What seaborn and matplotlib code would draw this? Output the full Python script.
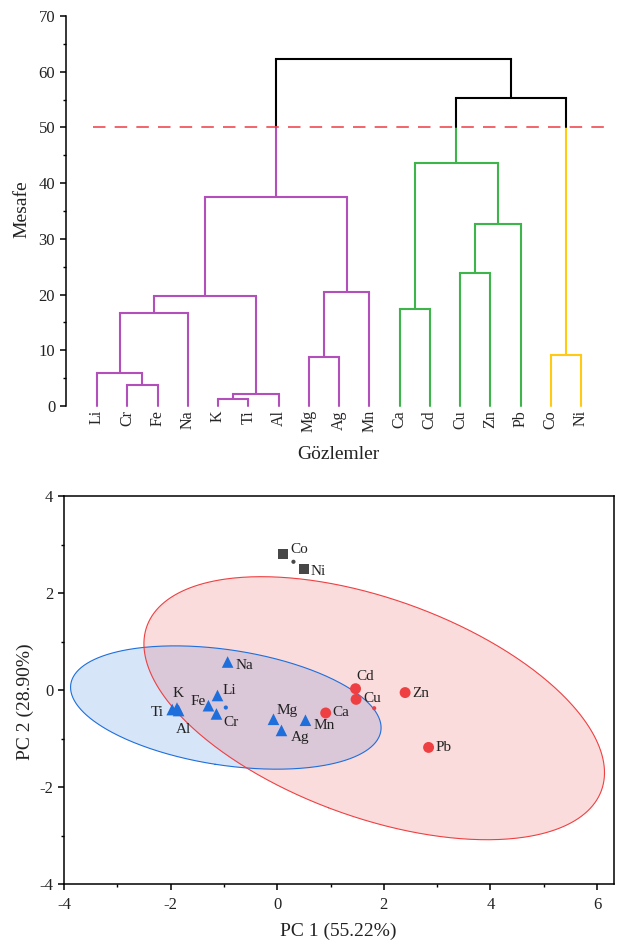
import numpy as np
import pandas as pd
import matplotlib
matplotlib.use("Agg")
import matplotlib.pyplot as plt
import seaborn as sns
from matplotlib.ticker import MultipleLocator

# ---------------- data: dendrogram ----------------
leaves = ["Li", "Cr", "Fe", "Na", "K", "Ti", "Al", "Mg", "Ag", "Mn",
          "Ca", "Cd", "Cu", "Zn", "Pb", "Co", "Ni"]
merge_left = ["Cr", "Li", "n2", "K", "n4", "n3", "Mg", "n7", "n6",
              "Ca", "Cu", "n11", "n10", "Co", "n13", "n9"]
merge_right = ["Fe", "n1", "Na", "Ti", "Al", "n5", "Ag", "Mn", "n8",
               "Cd", "Zn", "Pb", "n12", "Ni", "n14", "n15"]
merge_height = [3.8, 5.9, 16.7, 1.3, 2.2, 19.7, 8.8, 20.4, 37.6,
                17.5, 23.9, 32.7, 43.6, 9.1, 55.3, 62.3]
cut_height = 50
dendro_yticks = [0, 10, 20, 30, 40, 50, 60, 70]

# ---------------- data: PCA ----------------
pca_names = ["Na", "Li", "Fe", "Cr", "K", "Ti", "Al", "Mg", "Ag", "Mn",
             "Ca", "Cd", "Cu", "Zn", "Pb", "Co", "Ni"]
pc1 = [-0.93, -1.12, -1.29, -1.14, -1.88, -1.97, -1.85, -0.07, 0.08, 0.53,
       0.91, 1.47, 1.48, 2.40, 2.84, 0.11, 0.50]
pc2 = [0.58, -0.11, -0.32, -0.49, -0.37, -0.40, -0.42, -0.60, -0.83, -0.62,
       -0.47, 0.03, -0.19, -0.05, -1.18, 2.80, 2.49]
pca_group = ["G1"] * 10 + ["G2"] * 5 + ["G3"] * 2
pca_xticks = [-4, -2, 0, 2, 4, 6]
pca_yticks = [-4, -2, 0, 2, 4]

# ---------------- styles ----------------
cluster_colors = ["#B24FBA", "#3DB54A", "#FFC914"]
above_color = "#000000"
group_colors = {"G1": "#1E6FDC", "G2": "#EE4042", "G3": "#474747"}
group_markers = {"G1": "^", "G2": "o", "G3": "s"}
group_sizes = {"G1": 70, "G2": 62, "G3": 52}
# label offsets in pixels (dx right, dy down), horizontal alignment
label_offsets = {
    "Co": (7, -5, "left"), "Ni": (7, 2, "left"), "Na": (8, 4, "left"),
    "Li": (5, -5, "left"), "Fe": (-3, -4, "right"), "Cr": (7, 9, "left"),
    "K": (1, -15, "center"), "Ti": (-8, 3, "right"), "Al": (5, 19, "center"),
    "Mg": (3, -9, "left"), "Ag": (9, 7, "left"), "Mn": (8, 5, "left"),
    "Ca": (7, 0, "left"), "Cd": (1, -12, "left"), "Cu": (7, -1, "left"),
    "Zn": (7, 1, "left"), "Pb": (7, 0, "left"),
}

sns.set_theme(style="ticks")
plt.rcParams['font.family'] = ['Liberation Serif', 'DejaVu Serif']
plt.rcParams['axes.unicode_minus'] = False
plt.rcParams['mathtext.default'] = 'regular'

W, H = 622, 950
fig = plt.figure(figsize=(W / 100, H / 100), dpi=100)

# =============== Dendrogram ===============
ax1 = fig.add_axes([66 / W, 1 - 406 / H, 544 / W, 390 / H])
nodes = {l: (float(i), 0.0) for i, l in enumerate(leaves)}
children = {}
for j, (a, b, hgt) in enumerate(zip(merge_left, merge_right, merge_height)):
    nid = f"n{j + 1}"
    nodes[nid] = ((nodes[a][0] + nodes[b][0]) / 2.0, hgt)
    children[nid] = (a, b)
root = f"n{len(merge_height)}"
palette_iter = iter(cluster_colors)
lw_d = 1.5


def draw(node, color):
    if node not in children:
        return
    x, y = nodes[node]
    a, b = children[node]
    ax1.plot([nodes[a][0], nodes[b][0]], [y, y], color=color, lw=lw_d,
             solid_capstyle="projecting", clip_on=False)
    for c in (a, b):
        cx, cy = nodes[c]
        if y >= cut_height and cy < cut_height:
            ccol = next(palette_iter)
            ax1.plot([cx, cx], [cy, cut_height], color=ccol, lw=lw_d, clip_on=False)
            ax1.plot([cx, cx], [cut_height, y], color=color, lw=lw_d, clip_on=False)
        else:
            ccol = color
            ax1.plot([cx, cx], [cy, y], color=ccol, lw=lw_d, clip_on=False)
        draw(c, ccol)


start_color = above_color if nodes[root][1] >= cut_height else next(palette_iter)
draw(root, start_color)

ax1.axhline(cut_height, xmin=(93 - 66) / 544, xmax=(604 - 66) / 544,
            color="#EF4B52", lw=1.2, dashes=(7.5, 5.5), zorder=5)
ax1.set_xlim(-31 / 30.25, (610 - 97) / 30.25)
ax1.set_ylim(0, 70)
ax1.set_xticks(range(len(leaves)))
ax1.set_xticklabels(leaves, rotation=90, fontsize=11.5)
ax1.tick_params(axis="x", length=0, pad=3)
ax1.set_yticks(dendro_yticks)
ax1.yaxis.set_minor_locator(MultipleLocator(5))
ax1.tick_params(axis="y", which="major", direction="out", length=4.3, width=1.1,
                labelsize=12, pad=3.5, color="black", labelcolor="#222222")
ax1.tick_params(axis="y", which="minor", direction="out", length=2.3, width=1.0,
                color="black")
for s in ["top", "right", "bottom"]:
    ax1.spines[s].set_visible(False)
ax1.spines["left"].set_linewidth(1.1)
ax1.spines["left"].set_color("black")
ax1.set_facecolor("white")
ax1.grid(False)
fig.text(22 / W, 1 - 209 / H, "Mesafe", rotation=90, ha="center", va="center",
         fontsize=14, color="#222222")
fig.text(338 / W, 1 - 455 / H, "Gözlemler", ha="center", va="center",
         fontsize=14, color="#222222")

# =============== PCA ===============
ax2 = fig.add_axes([64 / W, 1 - 884.3 / H, 549.5 / W, 388.3 / H])
df = pd.DataFrame({"name": pca_names, "PC1": pc1, "PC2": pc2, "Group": pca_group})

theta = np.linspace(0, 2 * np.pi, 400)
for g in ["G1", "G2"]:
    sub = df[df.Group == g]
    n = len(sub)
    if n <= 2:
        continue
    d2 = n - 2
    fq = (d2 / 2.0) * (0.05 ** (-2.0 / d2) - 1.0)  # F(0.95; 2, n-2)
    k = 2 * (n - 1) * (n + 1) / (n * (n - 2)) * fq
    cov = np.cov(sub.PC1, sub.PC2)
    vals, vecs = np.linalg.eigh(cov)
    circ = np.vstack([np.cos(theta), np.sin(theta)])
    pts = vecs @ (np.sqrt(k * vals)[:, None] * circ)
    ex = sub.PC1.mean() + pts[0]
    ey = sub.PC2.mean() + pts[1]
    ax2.fill(ex, ey, facecolor=group_colors[g], alpha=0.18, edgecolor="none", zorder=1)
    ax2.plot(ex, ey, color=group_colors[g], lw=0.8, zorder=2)

sns.scatterplot(data=df, x="PC1", y="PC2", hue="Group", style="Group",
                size="Group", sizes=group_sizes, palette=group_colors,
                markers=group_markers, linewidth=0, legend=False, ax=ax2, zorder=4)

cent = df.groupby("Group", as_index=False)[["PC1", "PC2"]].mean()
sns.scatterplot(data=cent, x="PC1", y="PC2", hue="Group", palette=group_colors,
                s=9, linewidth=0, legend=False, ax=ax2, zorder=4)

for _, r in df.iterrows():
    dx, dy, ha = label_offsets[r["name"]]
    ax2.annotate(r["name"], (r.PC1, r.PC2), xytext=(dx * 0.72, -dy * 0.72),
                 textcoords="offset points", ha=ha, va="center",
                 fontsize=11, color="#222222", zorder=6)

ax2.set_xlim(-4, -4 + 549.5 / 53.3)
ax2.set_ylim(-4, 4)
ax2.set_xticks(pca_xticks)
ax2.set_yticks(pca_yticks)
ax2.xaxis.set_minor_locator(MultipleLocator(1))
ax2.yaxis.set_minor_locator(MultipleLocator(1))
ax2.tick_params(which="major", direction="out", length=4.3, width=1.1,
                labelsize=12, color="black", labelcolor="#222222")
ax2.tick_params(axis="x", which="major", pad=4.5)
ax2.tick_params(axis="y", which="major", pad=3.5)
ax2.tick_params(which="minor", direction="out", length=2.3, width=1.0, color="black")
ax2.tick_params(top=False, right=False, which="both")
for s in ax2.spines.values():
    s.set_linewidth(1.1)
    s.set_color("black")
    s.set_visible(True)
ax2.set_xlabel("")
ax2.set_ylabel("")
ax2.grid(False)
fig.text(338.5 / W, 1 - 931 / H, "PC 1 (55.22%)", ha="center", va="center",
         fontsize=14, color="#222222")
fig.text(25 / W, 1 - 702 / H, "PC 2 (28.90%)", rotation=90, ha="center",
         va="center", fontsize=14, color="#222222")

fig.savefig("out.png", dpi=100, facecolor="white")
